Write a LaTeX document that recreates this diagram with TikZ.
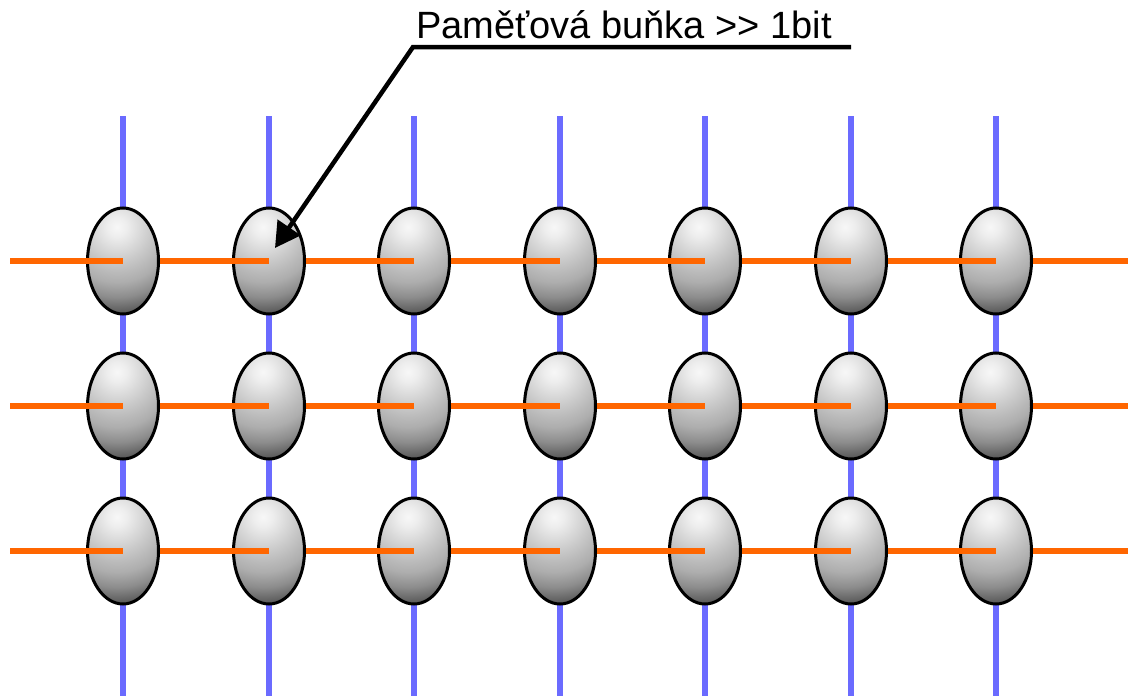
\documentclass[tikz,border=0pt]{standalone}
\usepackage{fontspec}
\setmainfont{Liberation Sans}[Ligatures=TeXOff]
\usetikzlibrary{shapes.geometric,arrows.meta}
\pgfdeclareradialshading{cellcirc}{\pgfpointorigin}{%
  color(0bp)=(white!97!black);
  color(10bp)=(white!93!black);
  color(34bp)=(white!79!black);
  color(45bp)=(white!73!black);
  color(55bp)=(white!68!black);
  color(70bp)=(white!55!black);
  color(80bp)=(white!42!black);
  color(88bp)=(white!32!black);
  color(95bp)=(white!28!black)}
\definecolor{wordline}{HTML}{FF6600}
\definecolor{bitline}{HTML}{6B6BFF}
\tikzset{
  cell/.style={ellipse, draw=black, line width=3pt, minimum width=71pt, minimum height=106pt, inner sep=0pt,
    path picture={\node[inner sep=0pt, outer sep=0pt] at ([xshift=-6pt,yshift=34pt]path picture bounding box.center) {\pgfuseshading{cellcirc}};}},
  wline/.style={draw=wordline, line width=6pt},
  bline/.style={draw=bitline, line width=6pt},
  pointer/.style={draw=black, line width=4.5pt, line join=miter},
}
\begin{document}
\begin{tikzpicture}[x=1pt,y=-1pt]
\path[use as bounding box] (0,0) rectangle (1128,696);
% bit lines (behind cells)
\foreach \c/\x in {1/123,2/269,3/414,4/560,5/705,6/851,7/996}{
  \coordinate (t\c) at (\x,116);
  \coordinate (b\c) at (\x,696);
  \draw[bline] (t\c) -- (b\c);
}
% cells
\foreach \r/\y in {1/261,2/406,3/551}{
  \foreach \c/\x in {1/123,2/269,3/414,4/560,5/705,6/851,7/996}{
    \node[cell] (c\r\c) at (\x,\y) {};
  }
}
% word lines (on top)
\foreach \r/\y in {1/261,2/406,3/551}{
  \coordinate (L\r) at (10,\y);
  \coordinate (R\r) at (1128,\y);
  \draw[wline] (L\r) -- (c\r1.center);
  \foreach \c [evaluate=\c as \n using int(\c+1)] in {1,...,6}{
    \draw[wline] (c\r\c.east) -- (c\r\n.center);
  }
  \draw[wline] (c\r7.east) -- (R\r);
}
% label
\node[anchor=base west, inner sep=0pt, font=\fontsize{38}{44}\selectfont] (lbl) at (416,38) {Paměťová buňka >> 1bit};
\coordinate (u1) at (413,47);
\coordinate (u2) at (851,47);
\coordinate (tip) at (275,248);
\draw[pointer, -{Triangle[length=25pt,width=27pt]}] (u2) -- (u1) -- (tip);
\end{tikzpicture}
\end{document}
